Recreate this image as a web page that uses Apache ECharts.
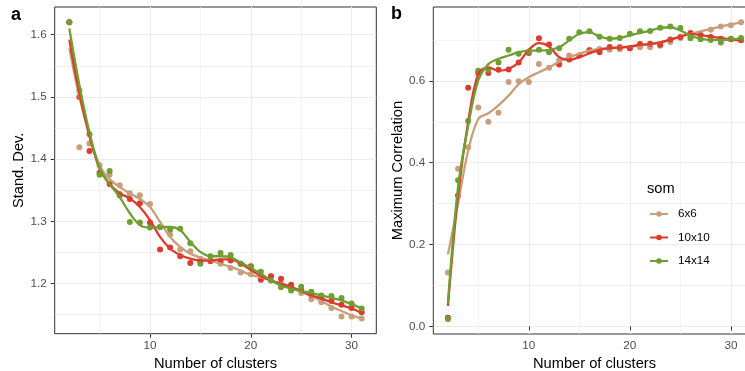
<!DOCTYPE html>
<html><head><meta charset="utf-8">
<script src="https://cdn.jsdelivr.net/npm/echarts@6/dist/echarts.min.js"></script>
<style>html,body{margin:0;padding:0;background:#fff}#c{width:745px;height:371px}</style>
</head><body><div id="c"></div>
<script>
// ---------- data ----------
const clusters = [2,3,4,5,6,7,8,9,10,11,12,13,14,15,16,17,18,19,20,21,22,23,24,25,26,27,28,29,30,31];
const somNames = ['6x6','10x10','14x14'];

// panel a: Stand. Dev. (points)
const sdPts6  = [1.620,1.419,1.425,1.390,1.375,1.358,1.345,1.342,1.328,1.291,1.279,1.255,1.252,1.240,1.237,1.232,1.225,1.218,1.215,1.210,1.212,1.200,1.193,1.185,1.175,1.170,1.161,1.147,1.147,1.144];
const sdPts10 = [1.620,1.500,1.413,1.378,1.360,1.342,1.336,1.329,1.298,1.255,1.258,1.244,1.233,1.235,1.236,1.236,1.237,1.232,1.228,1.206,1.212,1.208,1.198,1.190,1.182,1.176,1.172,1.166,1.161,1.154];
const sdPts14 = [1.620,1.510,1.440,1.375,1.381,1.344,1.299,1.298,1.290,1.291,1.287,1.288,1.265,1.232,1.244,1.249,1.246,1.232,1.226,1.219,1.205,1.194,1.189,1.195,1.187,1.181,1.180,1.177,1.168,1.160];
// panel a: smoothed curves
const sdFit6  = [1.578,1.500,1.440,1.390,1.368,1.355,1.345,1.336,1.323,1.299,1.275,1.259,1.248,1.242,1.237,1.232,1.227,1.221,1.214,1.210,1.205,1.200,1.193,1.187,1.180,1.172,1.163,1.156,1.149,1.144];
const sdFit10 = [1.592,1.505,1.437,1.385,1.360,1.345,1.337,1.323,1.302,1.275,1.256,1.246,1.240,1.237,1.237,1.239,1.239,1.232,1.222,1.212,1.205,1.200,1.195,1.188,1.181,1.176,1.170,1.165,1.160,1.153];
const sdFit14 = [1.610,1.519,1.443,1.385,1.360,1.339,1.313,1.294,1.290,1.291,1.291,1.286,1.267,1.251,1.244,1.244,1.242,1.234,1.225,1.216,1.205,1.197,1.192,1.188,1.185,1.181,1.177,1.173,1.167,1.160];

// panel b: Maximum Correlation (points)
const corPts6  = [0.132,0.385,0.438,0.535,0.500,0.522,0.597,0.599,0.597,0.641,0.632,0.650,0.662,0.662,0.676,0.678,0.676,0.677,0.680,0.682,0.682,0.686,0.695,0.705,0.708,0.712,0.725,0.733,0.736,0.743];
const corPts10 = [0.021,0.320,0.583,0.619,0.619,0.627,0.628,0.645,0.668,0.704,0.689,0.640,0.652,0.662,0.674,0.670,0.683,0.682,0.680,0.690,0.691,0.688,0.701,0.707,0.717,0.712,0.707,0.703,0.702,0.699];
const corPts14 = [0.018,0.357,0.502,0.625,0.627,0.645,0.676,0.666,0.672,0.676,0.670,0.680,0.703,0.719,0.721,0.708,0.703,0.705,0.715,0.721,0.722,0.730,0.733,0.729,0.704,0.702,0.700,0.694,0.703,0.705];
// panel b: smoothed curves
const corFit6  = [0.176,0.300,0.430,0.507,0.521,0.540,0.564,0.592,0.609,0.621,0.633,0.647,0.658,0.666,0.674,0.678,0.680,0.682,0.684,0.686,0.689,0.694,0.701,0.708,0.715,0.721,0.727,0.733,0.738,0.743];
const corFit10 = [0.050,0.320,0.500,0.617,0.633,0.625,0.629,0.645,0.676,0.692,0.684,0.658,0.651,0.658,0.667,0.676,0.680,0.681,0.684,0.688,0.690,0.694,0.701,0.708,0.715,0.712,0.708,0.705,0.701,0.699];
const corFit14 = [0.057,0.341,0.490,0.601,0.641,0.654,0.662,0.670,0.674,0.674,0.676,0.682,0.699,0.715,0.719,0.708,0.703,0.705,0.711,0.717,0.723,0.729,0.731,0.723,0.711,0.703,0.700,0.700,0.701,0.704];

// tick / grid breaks
const xMajor = [10,20,30];
const xMinor = [5,15,25];
const sdMajor = [1.2,1.3,1.4,1.5,1.6];
const sdMinor = [1.15,1.25,1.35,1.45,1.55];
const corMajor = [0.0,0.2,0.4,0.6];
const corMinor = [0.1,0.3,0.5,0.7];

// ---------- style ----------
const FONT = '"Liberation Sans", Arial, Helvetica, sans-serif';
const colors = ['#C79F7A', '#DC3B2D', '#6D9F31'];
const GRIDC = '#EBEBEB';
const X_RANGE = [0.55, 32.45];
const SD_RANGE = [1.1195, 1.6445];
const COR_RANGE = [-0.0185, 0.7805];

function pairs(arr){ return clusters.map((k,i)=>[k, arr[i]]); }

function xAxisFor(gi){
  return {
    type:'value', gridIndex:gi, min:X_RANGE[0], max:X_RANGE[1],
    axisLine:{show:false},
    splitLine:{show:true, lineStyle:{color:GRIDC, width:1.1}},
    axisTick:{show:true, customValues:xMajor, length:4, lineStyle:{color:'#333', width:1}},
    axisLabel:{customValues:xMajor, color:'#4D4D4D', fontSize:11.7, fontFamily:FONT, margin:6},
    name:'Number of clusters', nameLocation:'middle', nameGap:21,
    nameTextStyle:{fontSize:14.67, color:'#000', fontFamily:FONT}
  };
}
function yAxisFor(gi, range, major, name){
  return {
    type:'value', gridIndex:gi, min:range[0], max:range[1],
    axisLine:{show:false},
    splitLine:{show:true, lineStyle:{color:GRIDC, width:1.1}},
    axisTick:{show:true, customValues:major, length:4, lineStyle:{color:'#333', width:1}},
    axisLabel:{customValues:major, color:'#4D4D4D', fontSize:11.7, fontFamily:FONT, margin:8,
      formatter:v=>v.toFixed(1)},
    name:name, nameLocation:'middle', nameGap:27,
    nameTextStyle:{fontSize:14.67, color:'#000', fontFamily:FONT}
  };
}
// helper axes that only draw the minor grid lines
function minorAxis(gi, range, minor, pos){
  return {
    type:'value', gridIndex:gi, min:range[0], max:range[1], position:pos,
    axisLine:{show:false}, axisLabel:{show:false, customValues:minor},
    axisTick:{show:false, customValues:minor},
    splitLine:{show:true, lineStyle:{color:GRIDC, width:0.6}}
  };
}
function lineSeries(gi, name, arr, c){
  return {type:'line', name:name, xAxisIndex:gi, yAxisIndex:gi, data:pairs(arr),
    smooth:0.35, showSymbol:false, symbol:'circle', symbolSize:5,
    lineStyle:{color:c, width:2.3}, itemStyle:{color:c}, z:4, silent:true};
}
function ptSeries(gi, name, arr, c){
  return {type:'scatter', name:name, xAxisIndex:gi, yAxisIndex:gi, data:pairs(arr),
    symbol:'circle', symbolSize:6, itemStyle:{color:c, opacity:1}, z:3, silent:true};
}

const series = [
  lineSeries(1, somNames[0], corFit6, colors[0]),
  lineSeries(1, somNames[1], corFit10, colors[1]),
  lineSeries(1, somNames[2], corFit14, colors[2]),
  ptSeries(1, somNames[0], corPts6, colors[0]),
  ptSeries(1, somNames[1], corPts10, colors[1]),
  ptSeries(1, somNames[2], corPts14, colors[2]),
  ptSeries(0, somNames[0], sdPts6, colors[0]),
  ptSeries(0, somNames[1], sdPts10, colors[1]),
  ptSeries(0, somNames[2], sdPts14, colors[2]),
  lineSeries(0, somNames[0], sdFit6, colors[0]),
  lineSeries(0, somNames[1], sdFit10, colors[1]),
  lineSeries(0, somNames[2], sdFit14, colors[2])
];

const option = {
  animation:false,
  backgroundColor:'#fff',
  textStyle:{fontFamily:FONT},
  title:[
    {text:'a', left:11, top:6, padding:0, textStyle:{fontSize:18, fontWeight:'bold', color:'#000', fontFamily:FONT}},
    {text:'b', left:391, top:5, padding:0, textStyle:{fontSize:18, fontWeight:'bold', color:'#000', fontFamily:FONT}},
    {text:'som', left:647, top:181, padding:0, textStyle:{fontSize:14.67, fontWeight:'normal', color:'#000', fontFamily:FONT}}
  ],
  legend:{
    data:somNames, orient:'vertical', left:649, top:208, padding:0,
    itemWidth:18, itemHeight:7, itemGap:11.5,
    textStyle:{fontSize:11.7, color:'#000', fontFamily:FONT, padding:[0,0,0,5]},
    selectedMode:false
  },
  grid:[
    {left:54.7, top:7, width:321.6, height:326.7, show:true, borderColor:'#333', borderWidth:1,
     backgroundColor:'transparent', containLabel:false, outerBoundsMode:'none'},
    {left:433.3, top:7, width:322.4, height:327, show:true, borderColor:'#333', borderWidth:1,
     backgroundColor:'transparent', containLabel:false, outerBoundsMode:'none'}
  ],
  xAxis:[xAxisFor(0), xAxisFor(1),
         minorAxis(0, X_RANGE, xMinor, 'top'), minorAxis(1, X_RANGE, xMinor, 'top')],
  yAxis:[
    yAxisFor(0, SD_RANGE, sdMajor, 'Stand. Dev.'),
    yAxisFor(1, COR_RANGE, corMajor, 'Maximum Correlation'),
    minorAxis(0, SD_RANGE, sdMinor, 'right'), minorAxis(1, COR_RANGE, corMinor, 'right')
  ],
  series:series
};

const chart = echarts.init(document.getElementById('c'), null, {renderer:'canvas'});
chart.setOption(option);
</script>
</body></html>
